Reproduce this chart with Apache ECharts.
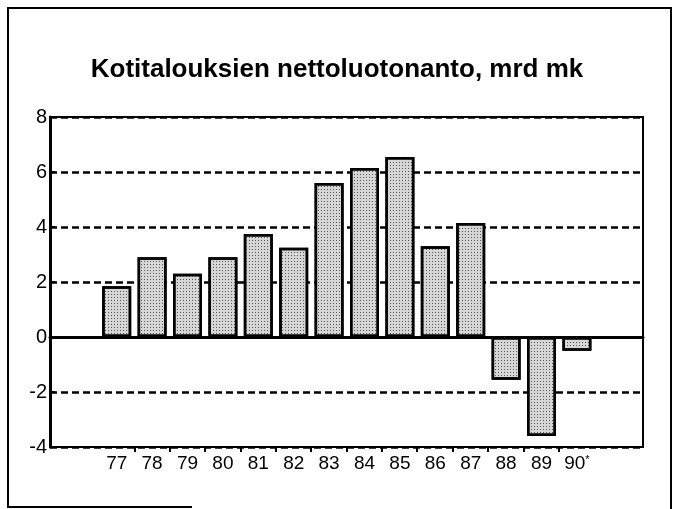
<!DOCTYPE html>
<html>
<head>
<meta charset="utf-8">
<script src="https://cdn.jsdelivr.net/npm/echarts@6/dist/echarts.min.js"></script>
<style>html,body{margin:0;padding:0;background:#fff;}#c{width:674px;height:509px;}</style>
</head>
<body>
<div id="c"></div>
<script>
var titleText = 'Kotitalouksien nettoluotonanto, mrd mk';
var years = ['77','78','79','80','81','82','83','84','85','86','87','88','89','90'];
var values = [1.85, 2.9, 2.3, 2.9, 3.75, 3.25, 5.6, 6.15, 6.55, 3.3, 4.15, -1.55, -3.6, -0.5];
var yMin = -4, yMax = 8, yStep = 2;

var chart = echarts.init(document.getElementById('c'), null, {renderer: 'canvas'});
var FONT = '"Liberation Sans", Arial, Helvetica, sans-serif';
var gTop = 117, gBottom = 62;

chart.setOption({
  backgroundColor: '#fff',
  animation: false,
  title: {
    text: titleText, left: 'center', top: 52,
    textStyle: {fontFamily: FONT, fontWeight: 'bold', fontSize: 26, color: '#000'}
  },
  graphic: [
    {type: 'polyline', shape: {points: [[8, 508], [8, 8], [671, 8], [671, 509]]}, style: {stroke: '#000', lineWidth: 2, fill: null}},
    {type: 'line', shape: {x1: 8, y1: 507, x2: 192, y2: 507}, style: {stroke: '#000', lineWidth: 2}}
  ],
  grid: [
    {left: 50, right: 31, top: gTop, bottom: gBottom, show: true, borderColor: '#000', borderWidth: 2, backgroundColor: 'transparent'},
    {left: 99, right: 79.4, top: gTop, bottom: gBottom},
    {left: 134.4, right: 115.4, top: gTop, bottom: gBottom}
  ],
  xAxis: [
    {gridIndex: 0, type: 'value', min: 0, max: 1,
     axisLine: {show: true, onZero: true, lineStyle: {color: '#000', width: 3}},
     axisTick: {show: false}, axisLabel: {show: false}, splitLine: {show: false}},
    {gridIndex: 1, type: 'category', data: years, position: 'bottom',
     axisLine: {show: false, onZero: false}, axisTick: {show: false},
     axisLabel: {
       interval: 0, color: '#000', fontFamily: FONT, fontSize: 19, margin: 7,
       formatter: function (v) { return v === '90' ? '{n|90}{s|*}' : '{n|' + v + '}'; },
       rich: {n: {fontFamily: FONT, fontSize: 19, color: '#000'}, s: {fontFamily: FONT, fontSize: 11, color: '#000', verticalAlign: 'top', padding: [0, 0, 8, 0]}}
     }},
    {gridIndex: 2, type: 'value', min: 1, max: 13, interval: 1, position: 'bottom',
     axisLine: {show: false, onZero: false}, axisTick: {show: true, length: 5, lineStyle: {color: '#000', width: 2}},
     axisLabel: {show: false}, splitLine: {show: false}}
  ],
  yAxis: [
    {gridIndex: 0, type: 'value', min: yMin, max: yMax, interval: yStep,
     axisLine: {show: true, lineStyle: {color: '#000', width: 3}},
     axisTick: {show: true, inside: true, length: 5, lineStyle: {color: '#000', width: 2}},
     axisLabel: {color: '#000', fontFamily: FONT, fontSize: 20, margin: 3},
     splitLine: {show: true, lineStyle: {color: '#000', width: 2.5, type: [7, 4]}}},
    {gridIndex: 1, type: 'value', min: yMin, max: yMax, interval: yStep, show: false},
    {gridIndex: 2, type: 'value', min: yMin, max: yMax, interval: yStep, show: false}
  ],
  series: [
    {type: 'bar', xAxisIndex: 1, yAxisIndex: 1, data: values, barWidth: 29,
     itemStyle: {
       color: '#d6d6d6', borderColor: '#000', borderWidth: 2.5,
       decal: {symbol: 'rect', symbolSize: 1, color: '#555', dashArrayX: [1, 2], dashArrayY: [1, 2], rotation: 0}
     }}
  ]
});
</script>
</body>
</html>
